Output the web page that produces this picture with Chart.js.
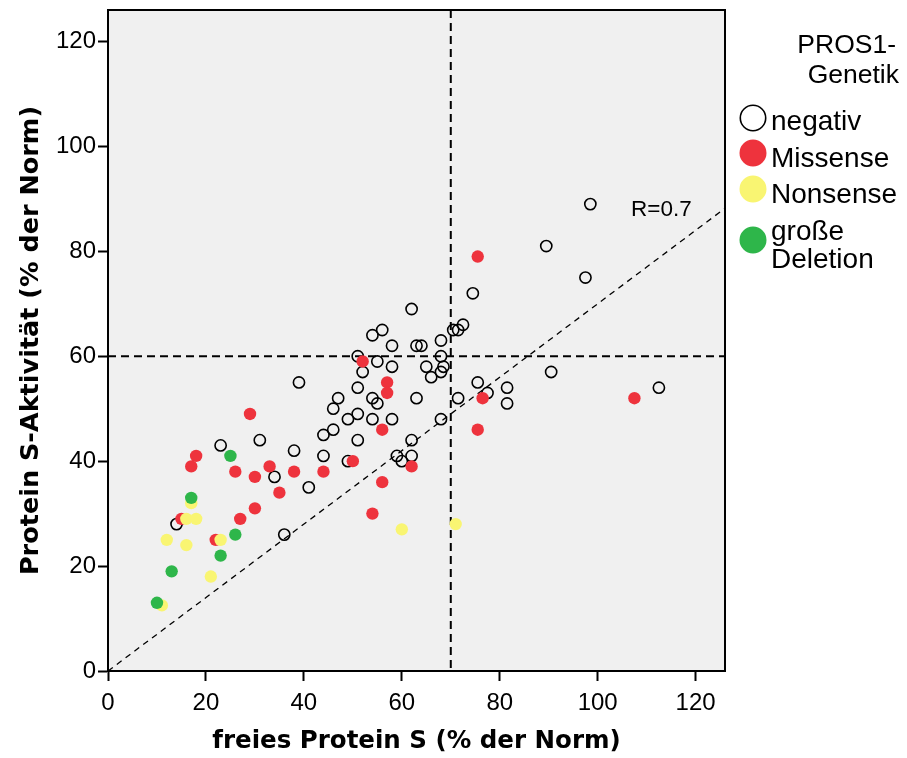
<!DOCTYPE html>
<html>
<head>
<meta charset="utf-8">
<script src="https://cdn.jsdelivr.net/npm/chart.js@4/dist/chart.umd.min.js"></script>
<style>
  html, body { margin: 0; background: #fff; }
  #wrap { width: 907px; height: 758px; }
</style>
</head>
<body>
<div id="wrap"><canvas id="scatter" width="907" height="758"></canvas></div>
<script>
// Data (x = freies Protein S, y = Protein S-Aktivität, both % der Norm)
const negX = [98.5, 89.5, 97.5, 74.5, 62, 72.5, 71.5, 70.5, 56, 54, 68, 63, 64, 58, 51, 68, 55, 58, 65, 68.5,
              52, 68, 66, 90.5, 39, 75.5, 51, 81.5, 112.5, 77.5, 47, 54, 63, 71.5, 55, 81.5, 46, 51, 49, 54,
              58, 68, 46, 44, 51, 62, 31, 23, 38, 44, 59, 62, 49, 60, 34, 41, 14, 36];
const negY = [89, 81, 75, 72, 69, 66, 65, 65, 65, 64, 63, 62, 62, 62, 60, 60, 59, 58, 58, 58,
              57, 57, 56, 57, 55, 55, 54, 54, 54, 53, 52, 52, 52, 52, 51, 51, 50, 49, 48, 48,
              48, 48, 46, 45, 44, 44, 44, 43, 42, 41, 41, 41, 40, 40, 37, 35, 28, 26];

const misX = [75.5, 29, 52, 57, 57, 56, 76.5, 107.5, 75.5, 18, 17, 26, 30, 33, 38, 44, 50, 62, 35, 56, 54, 30, 27, 15, 22];
const misY = [79, 49, 59, 55, 53, 46, 52, 52, 46, 41, 39, 38, 37, 39, 38, 38, 40, 39, 34, 36, 30, 31, 29, 29, 25];

const nonX = [17, 16, 18, 12, 16, 23, 21, 11, 60, 71];
const nonY = [32, 29, 29, 25, 24, 25, 18, 12.5, 27, 28];

const delX = [25, 17, 26, 23, 13, 10];
const delY = [41, 33, 26, 22, 19, 13];

const xTicks = [0, 20, 40, 60, 80, 100, 120];
const yTicks = [0, 20, 40, 60, 80, 100, 120];
const axisMax = 126;

// reference lines: cut-offs and the R=0.7 diagonal
const cutX = [70];
const cutY = [60];
const diagSlope = [0.7];
const diagLabel = 'R=0.7';

const groupNames = ['negativ', 'Missense', 'Nonsense', ['große', 'Deletion']];
const legendTitle = ['PROS1-', 'Genetik'];

const FONT = "'Liberation Sans', Arial, Helvetica, sans-serif";
const TITLE_FONT = "'DejaVu Sans', 'Liberation Sans', sans-serif";
const RED = '#ee333d';
const YELLOW = '#f9f572';
const GREEN = '#2eb64a';

function pts(xs, ys) {
    return xs.map((v, i) => ({ x: v, y: ys[i] }));
}

const plotDecor = {
    id: 'plotDecor',
    beforeDraw(chart) {
        const { ctx, chartArea: a } = chart;
        ctx.save();
        ctx.fillStyle = '#f0f0f0';
        ctx.fillRect(a.left, a.top, a.right - a.left, a.bottom - a.top);
        ctx.restore();
    },
    beforeDatasetsDraw(chart) {
        const { ctx, chartArea: a, scales: { x, y } } = chart;
        ctx.save();
        ctx.beginPath();
        ctx.rect(a.left, a.top, a.right - a.left, a.bottom - a.top);
        ctx.clip();
        ctx.strokeStyle = '#000';
        // cut-off lines
        ctx.lineWidth = 2;
        ctx.setLineDash([8, 5]);
        cutX.forEach(v => {
            const px = x.getPixelForValue(v);
            ctx.beginPath(); ctx.moveTo(px, a.top); ctx.lineTo(px, a.bottom); ctx.stroke();
        });
        cutY.forEach(v => {
            const py = y.getPixelForValue(v);
            ctx.beginPath(); ctx.moveTo(a.left, py); ctx.lineTo(a.right, py); ctx.stroke();
        });
        // diagonal
        ctx.lineWidth = 1.3;
        ctx.setLineDash([6, 5]);
        ctx.beginPath();
        ctx.moveTo(x.getPixelForValue(0), y.getPixelForValue(0));
        ctx.lineTo(x.getPixelForValue(x.max), y.getPixelForValue(x.max * diagSlope[0]));
        ctx.stroke();
        ctx.setLineDash([]);
        ctx.fillStyle = '#000';
        ctx.font = '22.5px ' + FONT;
        ctx.textAlign = 'left';
        ctx.textBaseline = 'alphabetic';
        ctx.fillText(diagLabel, 631, 216);
        ctx.restore();
    },
    afterDraw(chart) {
        const { ctx, chartArea: a } = chart;
        ctx.save();
        ctx.strokeStyle = '#000';
        ctx.lineWidth = 2;
        ctx.strokeRect(a.left, a.top, a.right - a.left, a.bottom - a.top);

        // legend
        ctx.fillStyle = '#000';
        ctx.font = '26.5px ' + FONT;
        ctx.textAlign = 'right';
        ctx.textBaseline = 'alphabetic';
        ctx.fillText(legendTitle[0], 896, 53);
        ctx.fillText(legendTitle[1], 899, 83);

        const items = [
            { fill: '#fff', stroke: '#000', y: 118, base: 130 },
            { fill: RED, stroke: RED, y: 153, base: 167 },
            { fill: YELLOW, stroke: YELLOW, y: 189, base: 203 },
            { fill: GREEN, stroke: GREEN, y: 240, base: 240 }
        ];
        ctx.textAlign = 'left';
        ctx.font = '28px ' + FONT;
        items.forEach((it, i) => {
            ctx.beginPath();
            ctx.arc(753, it.y, 12.7, 0, Math.PI * 2);
            ctx.fillStyle = it.fill;
            ctx.fill();
            ctx.lineWidth = 1.6;
            ctx.strokeStyle = it.stroke;
            ctx.stroke();
            ctx.fillStyle = '#000';
            const name = groupNames[i];
            if (Array.isArray(name)) {
                ctx.fillText(name[0], 771, it.base);
                ctx.fillText(name[1], 771, it.base + 28);
            } else {
                ctx.fillText(name, 771, it.base);
            }
        });
        ctx.restore();
    }
};

const ctx = document.getElementById('scatter').getContext('2d');

const scatterChart = new Chart(ctx, {
    type: 'scatter',
    data: {
        datasets: [
            { label: 'negativ', data: pts(negX, negY), pointRadius: 5.6, pointBorderWidth: 1.6,
              backgroundColor: 'rgba(0,0,0,0)', borderColor: '#000', order: 4 },
            { label: 'Missense', data: pts(misX, misY), pointRadius: 6.2, pointBorderWidth: 0,
              backgroundColor: RED, borderColor: RED, order: 3 },
            { label: 'Nonsense', data: pts(nonX, nonY), pointRadius: 6.2, pointBorderWidth: 0,
              backgroundColor: YELLOW, borderColor: YELLOW, order: 2 },
            { label: 'große Deletion', data: pts(delX, delY), pointRadius: 6.2, pointBorderWidth: 0,
              backgroundColor: GREEN, borderColor: GREEN, order: 1 }
        ]
    },
    options: {
        responsive: false,
        animation: false,
        layout: { padding: { left: 0, right: 182, top: 10, bottom: 0 } },
        plugins: {
            legend: { display: false },
            tooltip: { enabled: false }
        },
        scales: {
            x: {
                type: 'linear',
                min: 0,
                max: axisMax,
                afterBuildTicks: s => { s.ticks = xTicks.map(v => ({ value: v })); },
                afterFit: s => { s.height = 87; s.paddingLeft = 0; s.paddingRight = 0; },
                grid: { drawOnChartArea: false, drawTicks: true, tickLength: 10, tickWidth: 2, tickColor: '#000' },
                border: { display: true, color: '#000', width: 2 },
                ticks: { color: '#000', font: { family: FONT, size: 24 }, padding: 8, maxRotation: 0 },
                title: {
                    display: true,
                    text: 'freies Protein S (% der Norm)',
                    color: '#000',
                    font: { family: TITLE_FONT, size: 24.5, weight: 'bold' },
                    padding: { top: 0, bottom: 2 }
                }
            },
            y: {
                type: 'linear',
                min: 0,
                max: axisMax,
                afterBuildTicks: s => { s.ticks = yTicks.map(v => ({ value: v })); },
                afterFit: s => { s.width = 108; s.paddingTop = 0; s.paddingBottom = 0; },
                grid: { drawOnChartArea: false, drawTicks: true, tickLength: 10, tickWidth: 2, tickColor: '#000' },
                border: { display: true, color: '#000', width: 2 },
                ticks: { color: '#000', font: { family: FONT, size: 24 }, padding: 2 },
                title: {
                    display: true,
                    text: 'Protein S-Aktivität (% der Norm)',
                    color: '#000',
                    font: { family: TITLE_FONT, size: 25.5, weight: 'bold' },
                    padding: { top: 16, bottom: 0 }
                }
            }
        }
    },
    plugins: [plotDecor]
});
</script>
</body>
</html>
